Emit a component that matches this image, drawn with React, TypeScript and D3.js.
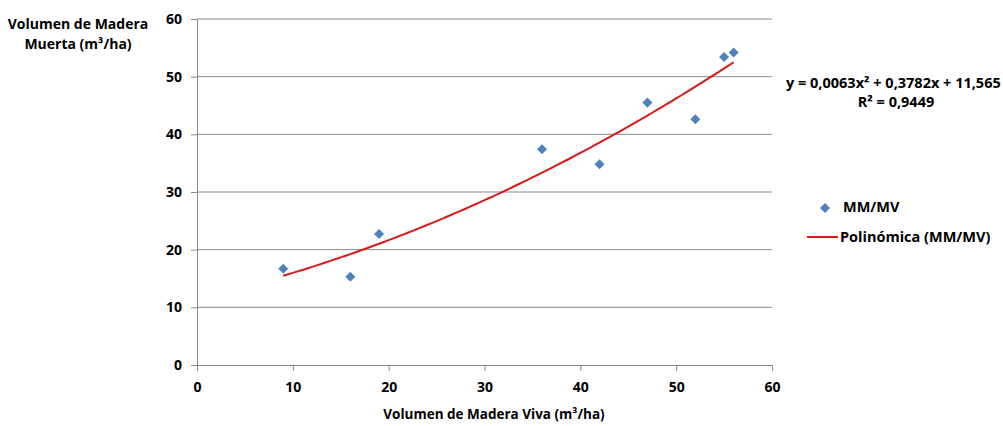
import React, { useRef, useEffect } from 'react';
import * as d3 from 'd3';

// MM/MV observations (volume of live wood vs dead wood, m3/ha)
const madeVivaValues = [9, 16, 19, 36, 42, 47, 52, 55, 56];
const maderaMuertaValues = [16.7, 15.3, 22.7, 37.4, 34.8, 45.5, 42.6, 53.4, 54.2];
// polynomial trendline coefficients as printed on the chart: c2, c1, c0
const trendCoefs = [0.0063, 0.3782, 11.565];
const xTicks = [0, 10, 20, 30, 40, 50, 60];
const yTicks = [0, 10, 20, 30, 40, 50, 60];

const W = 1003;
const H = 426;
const FONT = '"Open Sans", sans-serif';

const App = () => {
  const svgRef = useRef<SVGSVGElement | null>(null);

  useEffect(() => {
    const svg = d3.select(svgRef.current);
    svg.selectAll('*').remove();

    const x = d3.scaleLinear().domain([0, 60]).range([197, 772]);
    const y = d3.scaleLinear().domain([0, 60]).range([365, 19]);

    // gridlines
    svg
      .append('g')
      .selectAll('line')
      .data(yTicks.filter((d) => d > 0))
      .join('line')
      .attr('x1', x(0))
      .attr('x2', x(60))
      .attr('y1', (d) => y(d))
      .attr('y2', (d) => y(d))
      .attr('stroke', '#8a8a8a')
      .attr('stroke-width', 1);

    const yAxis = d3
      .axisLeft(y)
      .tickValues(yTicks)
      .tickSize(6)
      .tickPadding(9)
      .tickFormat((d) => String(d));
    const gy = svg.append('g').attr('transform', `translate(${x(0)},0)`).call(yAxis);

    const xAxis = d3
      .axisBottom(x)
      .tickValues(xTicks)
      .tickSize(6)
      .tickPadding(11)
      .tickFormat((d) => String(d));
    const gx = svg.append('g').attr('transform', `translate(0,${y(0)})`).call(xAxis);

    [gx, gy].forEach((g) => {
      g.select('.domain').attr('stroke', '#8a8a8a');
      g.selectAll('.tick line').attr('stroke', '#8a8a8a');
      g.selectAll('.tick text')
        .attr('fill', '#000')
        .style('font-family', FONT)
        .style('font-weight', '700')
        .style('font-size', '14px');
    });

    // trendline from printed polynomial
    const trendX = d3.range(madeVivaValues[0], madeVivaValues[madeVivaValues.length - 1] + 0.01, 0.5);
    const poly = (v: number) => trendCoefs[0] * v * v + trendCoefs[1] * v + trendCoefs[2];
    const line = d3
      .line<number>()
      .x((d) => x(d))
      .y((d) => y(poly(d)));
    svg
      .append('path')
      .datum(trendX)
      .attr('d', line)
      .attr('fill', 'none')
      .attr('stroke', '#d91a1a')
      .attr('stroke-width', 2);

    // points
    const diamond = d3.symbol().type(d3.symbolDiamond2).size(64);
    svg
      .append('g')
      .selectAll('path')
      .data(madeVivaValues.map((v, i) => [v, maderaMuertaValues[i]]))
      .join('path')
      .attr('d', diamond)
      .attr('transform', (d) => `translate(${x(d[0])},${y(d[1])})`)
      .attr('fill', '#4f81bd');

    const txt = (tx: number, ty: number, s: string, anchor = 'start', size = 14) =>
      svg
        .append('text')
        .attr('x', tx)
        .attr('y', ty)
        .attr('text-anchor', anchor)
        .style('font-family', FONT)
        .style('font-weight', '700')
        .style('font-size', `${size}px`)
        .attr('fill', '#000')
        .text(s);

    // axis titles
    txt(78, 29, 'Volumen de Madera', 'middle');
    txt(78, 49, 'Muerta (m³/ha)', 'middle');
    txt(494, 419, 'Volumen de Madera Viva (m³/ha)', 'middle', 13.5);

    // equation
    txt(786, 88, 'y = 0,0063x² + 0,3782x + 11,565', 'start', 14.5);
    txt(896, 107, 'R² = 0,9449', 'middle', 14.5);

    // legend
    svg
      .append('path')
      .attr('d', diamond)
      .attr('transform', `translate(825,208)`)
      .attr('fill', '#4f81bd');
    txt(843, 212, 'MM/MV', 'start', 14.5);
    svg
      .append('line')
      .attr('x1', 807)
      .attr('x2', 838)
      .attr('y1', 237)
      .attr('y2', 237)
      .attr('stroke', '#d91a1a')
      .attr('stroke-width', 2);
    txt(840, 242, 'Polinómica (MM/MV)', 'start', 14.5);
  }, []);

  return (
    <svg
      ref={svgRef}
      width={W}
      height={H}
      style={{ position: 'absolute', left: 0, top: 0, background: '#fff' }}
    ></svg>
  );
};

export default App;
